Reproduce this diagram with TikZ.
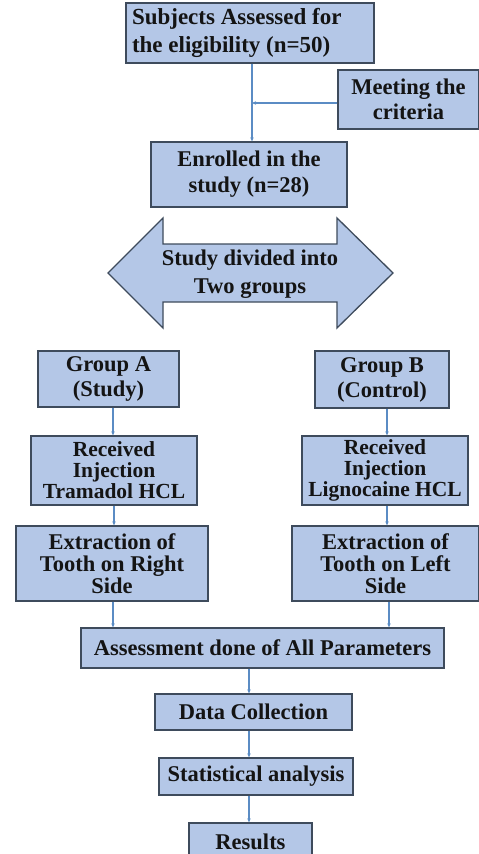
\documentclass[tikz,border=0pt]{standalone}
\usepackage{fontspec}
\setmainfont{Liberation Serif}
\usetikzlibrary{arrows.meta}
\definecolor{boxfill}{HTML}{B4C7E7}
\definecolor{bord}{HTML}{3E4B5C}
\definecolor{conn}{HTML}{5B8CC4}
\definecolor{txt}{HTML}{141414}
\tikzset{
  fbox/.style={draw=bord, fill=boxfill, line width=1.3pt, inner sep=0pt,
    align=center, text=txt, font=\bfseries\fontsize{22.5}{25}\selectfont},
  conn/.style={draw=conn, line width=1.1pt, -{Stealth[length=4pt,width=3.5pt]}},
}
\begin{document}
\begin{tikzpicture}[x=1pt,y=-1pt]
\useasboundingbox (0,0) rectangle (479,854);
\begin{scope}
\clip (0,0) rectangle (479,854);
% boxes
\node[fbox, minimum width=248pt, minimum height=60pt, text width=236pt, align=flush left, font=\bfseries\fontsize{23}{28}\selectfont] (b1) at (250,33) {Subjects Assessed for\\the eligibility (n=50)};
\node[fbox, minimum width=141pt, minimum height=59pt, font=\bfseries\fontsize{22.5}{25}\selectfont] (crit) at (408.5,99.5) {Meeting the\\criteria};
\node[fbox, minimum width=196pt, minimum height=65pt, font=\bfseries\fontsize{22.5}{26}\selectfont] (enr) at (249,174.5) {Enrolled in the\\study (n=28)};
% double arrow
\draw[draw=bord, fill=boxfill, line width=1.3pt] (108,273) -- (163,218) -- (163,244) -- (337,244) -- (337,218) -- (393,273) -- (337,328) -- (337,302) -- (163,302) -- (163,328) -- cycle;
\node[align=center, text=txt, font=\bfseries\fontsize{22.5}{28}\selectfont] (split) at (250,274) {Study divided into\\Two groups};
\node[fbox, minimum width=141pt, minimum height=56pt] (ga) at (108.5,379) {Group A\\(Study)};
\node[fbox, minimum width=134pt, minimum height=57pt] (gb) at (382,379.5) {Group B\\(Control)};
\node[fbox, minimum width=166pt, minimum height=69pt, font=\bfseries\fontsize{21.5}{21}\selectfont] (ra) at (114,470.5) {Received\\Injection\\Tramadol HCL};
\node[fbox, minimum width=166pt, minimum height=69pt, font=\bfseries\fontsize{21.5}{21}\selectfont] (rb) at (385,470.5) {Received\\Injection\\Lignocaine HCL};
\node[fbox, minimum width=192pt, minimum height=75pt, font=\bfseries\fontsize{22.5}{22}\selectfont] (ea) at (112,563.5) {Extraction of\\Tooth on Right\\Side};
\node[fbox, minimum width=187pt, minimum height=75pt, font=\bfseries\fontsize{22.5}{22}\selectfont] (eb) at (385.5,563.5) {Extraction of\\Tooth on Left\\Side};
\node[fbox, minimum width=363pt, minimum height=40pt] (as) at (262.5,648) {Assessment done of All Parameters};
\node[fbox, minimum width=197pt, minimum height=36pt] (dc) at (253.5,712) {Data Collection};
\node[fbox, minimum width=194pt, minimum height=37pt] (sa) at (256,776.5) {Statistical analysis};
\node[fbox, minimum width=123pt, minimum height=37pt] (res) at (250.5,841.5) {Results};
% connectors
\coordinate (j) at (252,103);
\draw[conn] (b1.south -| j) -- (enr.north -| j);
\draw[conn] (crit.west |- j) -- (j);
\coordinate (xa) at (113,0);
\coordinate (xb) at (387,0);
\coordinate (xm) at (249,0);
\draw[conn] (ga.south -| xa) -- (ra.north -| xa);
\draw[conn] (gb.south -| xb) -- (rb.north -| xb);
\coordinate (xa2) at (114,0);
\draw[conn] (ra.south -| xa2) -- (ea.north -| xa2);
\draw[conn] (rb.south -| xb) -- (eb.north -| xb);
\coordinate (xb2) at (389,0);
\draw[conn] (ea.south -| xa) -- (as.north -| xa);
\draw[conn] (eb.south -| xb2) -- (as.north -| xb2);
\draw[conn] (as.south -| xm) -- (dc.north -| xm);
\draw[conn] (dc.south -| xm) -- (sa.north -| xm);
\draw[conn] (sa.south -| xm) -- (res.north -| xm);
\end{scope}
\end{tikzpicture}
\end{document}
